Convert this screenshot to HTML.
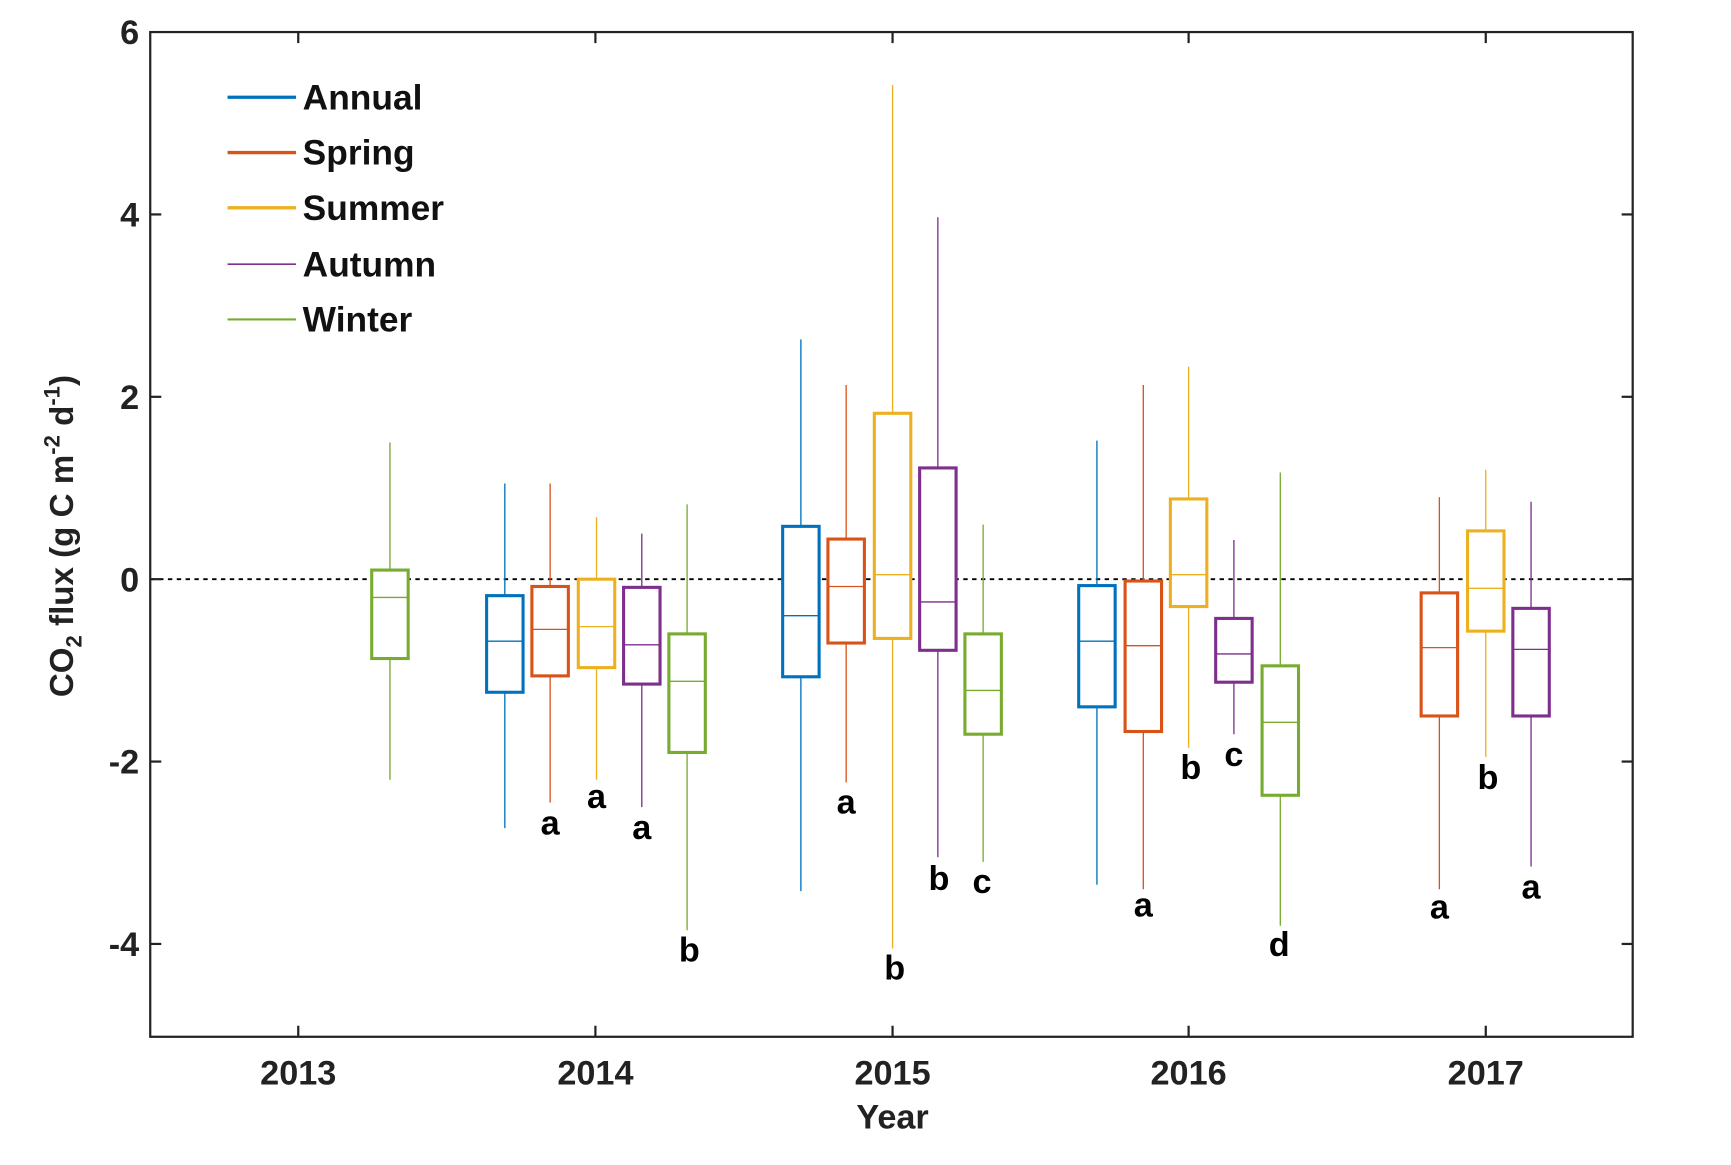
<!DOCTYPE html>
<html><head><meta charset="utf-8"><style>html,body{margin:0;padding:0;background:#fff;}svg{display:block}</style></head><body>
<svg width="1731" height="1165" viewBox="0 0 1567 1054" preserveAspectRatio="none" xmlns="http://www.w3.org/2000/svg" font-family="Liberation Sans, Arial, sans-serif" font-weight="bold">
<rect width="1567" height="1054" fill="#fff"/>
<line x1="136" y1="524" x2="1478" y2="524" stroke="#000" stroke-width="1.6" stroke-dasharray="4,4"/>
<g fill="none" stroke-linecap="butt">
<g stroke-width="1.2">
<line x1="353" y1="400.25" x2="353" y2="705.5" stroke="#77AC30"/>
<line x1="457" y1="437.4" x2="457" y2="749.2" stroke="#0072BD"/>
<line x1="498" y1="437.4" x2="498" y2="726.1" stroke="#D95319"/>
<line x1="540" y1="467.9" x2="540" y2="705.5" stroke="#EDB120"/>
<line x1="581" y1="482.75" x2="581" y2="730.25" stroke="#7E2F8E"/>
<line x1="622" y1="456.35" x2="622" y2="841.6" stroke="#77AC30"/>
<line x1="725" y1="307" x2="725" y2="806.2" stroke="#0072BD"/>
<line x1="766" y1="348.3" x2="766" y2="708" stroke="#D95319"/>
<line x1="808" y1="76.85" x2="808" y2="858.1" stroke="#EDB120"/>
<line x1="849" y1="196.5" x2="849" y2="775.6" stroke="#7E2F8E"/>
<line x1="890" y1="474.5" x2="890" y2="779.75" stroke="#77AC30"/>
<line x1="993" y1="398.6" x2="993" y2="800.4" stroke="#0072BD"/>
<line x1="1035" y1="348.3" x2="1035" y2="804.5" stroke="#D95319"/>
<line x1="1076" y1="331.8" x2="1076" y2="676.6" stroke="#EDB120"/>
<line x1="1117" y1="488.5" x2="1117" y2="664.25" stroke="#7E2F8E"/>
<line x1="1159" y1="427.5" x2="1159" y2="837.5" stroke="#77AC30"/>
<line x1="1303" y1="449.75" x2="1303" y2="804.5" stroke="#D95319"/>
<line x1="1345" y1="425" x2="1345" y2="684.9" stroke="#EDB120"/>
<line x1="1386" y1="453.9" x2="1386" y2="783.9" stroke="#7E2F8E"/>
</g>
<g stroke-width="2.8" fill="#fff">
<rect x="336.5" y="515.75" width="33" height="80.05" stroke="#77AC30"/>
<rect x="440.5" y="538.9" width="33" height="87.4" stroke="#0072BD"/>
<rect x="481.5" y="530.6" width="33" height="80.9" stroke="#D95319"/>
<rect x="523.5" y="524" width="33" height="80" stroke="#EDB120"/>
<rect x="564.5" y="531.4" width="33" height="87.5" stroke="#7E2F8E"/>
<rect x="605.5" y="573.5" width="33" height="107.25" stroke="#77AC30"/>
<rect x="708.5" y="476.2" width="33" height="136.1" stroke="#0072BD"/>
<rect x="749.5" y="487.7" width="33" height="94.05" stroke="#D95319"/>
<rect x="791.5" y="373.9" width="33" height="203.7" stroke="#EDB120"/>
<rect x="832.5" y="423.35" width="33" height="165" stroke="#7E2F8E"/>
<rect x="873.5" y="573.5" width="33" height="90.75" stroke="#77AC30"/>
<rect x="976.5" y="529.8" width="33" height="109.7" stroke="#0072BD"/>
<rect x="1018.5" y="525.65" width="33" height="136.15" stroke="#D95319"/>
<rect x="1059.5" y="451.4" width="33" height="97.35" stroke="#EDB120"/>
<rect x="1100.5" y="559.5" width="33" height="57.7" stroke="#7E2F8E"/>
<rect x="1142.5" y="602.4" width="33" height="117.1" stroke="#77AC30"/>
<rect x="1286.5" y="536.4" width="33" height="111.35" stroke="#D95319"/>
<rect x="1328.5" y="480.3" width="33" height="90.7" stroke="#EDB120"/>
<rect x="1369.5" y="550.4" width="33" height="97.35" stroke="#7E2F8E"/>
</g>
<g stroke-width="1.2">
<line x1="337" x2="369" y1="540.5" y2="540.5" stroke="#77AC30"/>
<line x1="441" x2="473" y1="580.1" y2="580.1" stroke="#0072BD"/>
<line x1="482" x2="514" y1="569.4" y2="569.4" stroke="#D95319"/>
<line x1="524" x2="556" y1="566.9" y2="566.9" stroke="#EDB120"/>
<line x1="565" x2="597" y1="583.4" y2="583.4" stroke="#7E2F8E"/>
<line x1="606" x2="638" y1="616.4" y2="616.4" stroke="#77AC30"/>
<line x1="709" x2="741" y1="557" y2="557" stroke="#0072BD"/>
<line x1="750" x2="782" y1="530.6" y2="530.6" stroke="#D95319"/>
<line x1="792" x2="824" y1="519.9" y2="519.9" stroke="#EDB120"/>
<line x1="833" x2="865" y1="544.6" y2="544.6" stroke="#7E2F8E"/>
<line x1="874" x2="906" y1="624.65" y2="624.65" stroke="#77AC30"/>
<line x1="977" x2="1009" y1="580.1" y2="580.1" stroke="#0072BD"/>
<line x1="1019" x2="1051" y1="584.2" y2="584.2" stroke="#D95319"/>
<line x1="1060" x2="1092" y1="519.9" y2="519.9" stroke="#EDB120"/>
<line x1="1101" x2="1133" y1="591.65" y2="591.65" stroke="#7E2F8E"/>
<line x1="1143" x2="1175" y1="653.5" y2="653.5" stroke="#77AC30"/>
<line x1="1287" x2="1319" y1="585.9" y2="585.9" stroke="#D95319"/>
<line x1="1329" x2="1361" y1="532.25" y2="532.25" stroke="#EDB120"/>
<line x1="1370" x2="1402" y1="587.5" y2="587.5" stroke="#7E2F8E"/>
</g>
</g>
<rect x="136" y="29" width="1342" height="909" fill="none" stroke="#222" stroke-width="2"/>
<g stroke="#222" stroke-width="2">
<line x1="136" x2="146" y1="194" y2="194"/><line x1="136" x2="146" y1="359" y2="359"/><line x1="136" x2="146" y1="524" y2="524"/><line x1="136" x2="146" y1="689" y2="689"/><line x1="136" x2="146" y1="854" y2="854"/>
<line x1="1468" x2="1478" y1="194" y2="194"/><line x1="1468" x2="1478" y1="359" y2="359"/><line x1="1468" x2="1478" y1="524" y2="524"/><line x1="1468" x2="1478" y1="689" y2="689"/><line x1="1468" x2="1478" y1="854" y2="854"/>
<line x1="270" x2="270" y1="928" y2="938"/><line x1="539" x2="539" y1="928" y2="938"/><line x1="808" x2="808" y1="928" y2="938"/><line x1="1076" x2="1076" y1="928" y2="938"/><line x1="1345" x2="1345" y1="928" y2="938"/>
<line x1="270" x2="270" y1="29" y2="39"/><line x1="539" x2="539" y1="29" y2="39"/><line x1="808" x2="808" y1="29" y2="39"/><line x1="1076" x2="1076" y1="29" y2="39"/><line x1="1345" x2="1345" y1="29" y2="39"/>
</g>
<g font-size="31" fill="#222" text-anchor="end">
<text x="126" y="40">6</text><text x="126" y="205">4</text><text x="126" y="370">2</text><text x="126" y="535">0</text><text x="126" y="700">-2</text><text x="126" y="865">-4</text>
</g>
<g font-size="31" fill="#222" text-anchor="middle">
<text x="270" y="981">2013</text><text x="539" y="981">2014</text><text x="808" y="981">2015</text><text x="1076" y="981">2016</text><text x="1345" y="981">2017</text>
<text x="808" y="1021" font-size="31">Year</text>
</g>
<text transform="translate(66,485) rotate(-90)" text-anchor="middle" font-size="30" fill="#222">CO<tspan font-size="20" dy="8">2</tspan><tspan dy="-8"> flux (g C m</tspan><tspan font-size="20" dy="-12">-2</tspan><tspan dy="12"> d</tspan><tspan font-size="20" dy="-12">-1</tspan><tspan dy="12">)</tspan></text>
<g stroke-width="3">
<line x1="206" x2="268" y1="88" y2="88" stroke="#0072BD"/>
<line x1="206" x2="268" y1="138" y2="138" stroke="#D95319"/>
<line x1="206" x2="268" y1="188" y2="188" stroke="#EDB120"/>
<line x1="206" x2="268" y1="239" y2="239" stroke="#7E2F8E" stroke-width="1.5"/>
<line x1="206" x2="268" y1="289" y2="289" stroke="#77AC30" stroke-width="2"/>
</g>
<g font-size="32" fill="#111">
<text x="274" y="99">Annual</text><text x="274" y="149">Spring</text><text x="274" y="199">Summer</text><text x="274" y="250">Autumn</text><text x="274" y="300">Winter</text>
</g>
<g font-size="31" fill="#000" text-anchor="middle">
<text x="498" y="755">a</text><text x="540" y="731">a</text><text x="581" y="759">a</text><text x="624" y="870">b</text>
<text x="766" y="736">a</text><text x="810" y="886">b</text><text x="850" y="805">b</text><text x="889" y="808">c</text>
<text x="1035" y="829">a</text><text x="1078" y="705">b</text><text x="1117" y="693">c</text><text x="1158" y="865">d</text>
<text x="1303" y="831">a</text><text x="1347" y="714">b</text><text x="1386" y="813">a</text>
</g>
</svg>
</body></html>
